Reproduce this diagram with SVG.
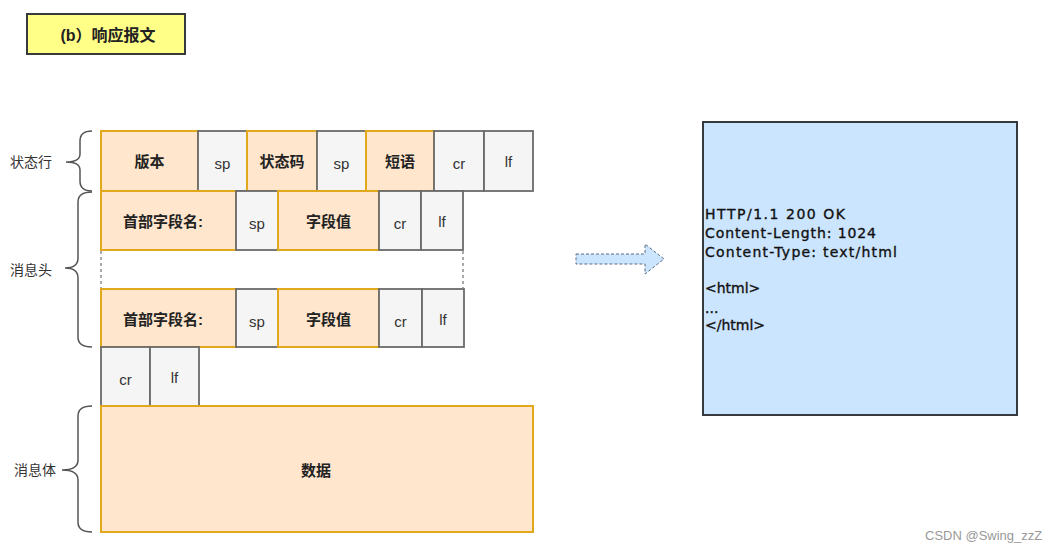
<svg xmlns="http://www.w3.org/2000/svg" width="1063" height="552" viewBox="0 0 1063 552">
<style>
.o{fill:#ffe6cc;stroke:#e0a81a;stroke-width:2}
.g{fill:#f5f5f5;stroke:#6b6b6b;stroke-width:1.8}
.t{font-family:"Liberation Sans","Noto Sans CJK SC",sans-serif;font-size:15px;text-anchor:middle;dominant-baseline:central}
.b{font-weight:bold;fill:#222}
.n{fill:#333}
.lbl{font-family:"Liberation Sans","Noto Sans CJK SC",sans-serif;font-size:14px;fill:#333;dominant-baseline:central}
.br{fill:none;stroke:#555;stroke-width:1.5}
.code{font-family:"DejaVu Sans",sans-serif;font-size:14px;fill:#111;stroke:#111;stroke-width:0.35}
</style>
<rect width="1063" height="552" fill="#fff"/>

<g id="title">
<rect x="27" y="14" width="158" height="40" fill="#ffff88" stroke="#36393d" stroke-width="2"/>
<text class="t b" x="108" y="35" style="font-size:16px">(b）响应报文</text>
</g>

<g id="labels">
<text class="lbl" x="10" y="162">状态行</text>
<text class="lbl" x="10" y="270">消息头</text>
<text class="lbl" x="14" y="470">消息体</text>
<path class="br" d="M92,131 Q80,131 80,141 L80,154 Q80,162 66,162 Q80,162 80,170 L80,181 Q80,191 92,191"/>
<path class="br" d="M92,192 Q78,192 78,202 L78,258 Q78,268 65,268 Q78,268 78,278 L78,337 Q78,347 92,347"/>
<path class="br" d="M92,406 Q78,406 78,416 L78,460 Q78,470 62,470 Q78,470 78,480 L78,522 Q78,532 92,532"/>
</g>

<g id="status-line">
<g id="n-version"><rect class="o" x="101" y="131" width="97" height="60"/><text class="t b" x="149.5" y="161">版本</text></g>
<g id="n-sp1"><rect class="g" x="198" y="131" width="49" height="60"/><text class="t n" x="222.5" y="163">sp</text></g>
<g id="n-status"><rect class="o" x="247" y="131" width="70" height="60"/><text class="t b" x="282" y="161">状态码</text></g>
<g id="n-sp2"><rect class="g" x="317" y="131" width="49" height="60"/><text class="t n" x="341.5" y="163">sp</text></g>
<g id="n-phrase"><rect class="o" x="366" y="131" width="68" height="60"/><text class="t b" x="400" y="161">短语</text></g>
<g id="n-cr1"><rect class="g" x="434" y="131" width="50" height="60"/><text class="t n" x="459" y="163">cr</text></g>
<g id="n-lf1"><rect class="g" x="484" y="131" width="49" height="60"/><text class="t n" x="508.5" y="161">lf</text></g>
</g>

<g id="header1">
<g id="n-hname1"><rect class="o" x="101" y="191" width="135" height="59"/><text class="t b" x="163" y="221">首部字段名:</text></g>
<g id="n-hsp1"><rect class="g" x="236" y="191" width="42" height="59"/><text class="t n" x="257" y="223">sp</text></g>
<g id="n-hval1"><rect class="o" x="278" y="191" width="101" height="59"/><text class="t b" x="328.5" y="221">字段值</text></g>
<g id="n-hcr1"><rect class="g" x="379" y="191" width="42" height="59"/><text class="t n" x="400" y="223">cr</text></g>
<g id="n-hlf1"><rect class="g" x="421" y="191" width="42" height="59"/><text class="t n" x="442" y="221">lf</text></g>
</g>

<g id="ellipsis-gap">
<line x1="101" y1="251" x2="101" y2="288" stroke="#555" stroke-width="1" stroke-dasharray="3,3"/>
<line x1="463" y1="251" x2="463" y2="288" stroke="#555" stroke-width="1" stroke-dasharray="3,3"/>
</g>

<g id="header2">
<g id="n-hname2"><rect class="o" x="101" y="289" width="135" height="58"/><text class="t b" x="163" y="319">首部字段名:</text></g>
<g id="n-hsp2"><rect class="g" x="236" y="289" width="42" height="58"/><text class="t n" x="257" y="321">sp</text></g>
<g id="n-hval2"><rect class="o" x="278" y="289" width="101" height="58"/><text class="t b" x="328.5" y="319">字段值</text></g>
<g id="n-hcr2"><rect class="g" x="379" y="289" width="43" height="58"/><text class="t n" x="400.5" y="321">cr</text></g>
<g id="n-hlf2"><rect class="g" x="422" y="289" width="42" height="58"/><text class="t n" x="443" y="319">lf</text></g>
</g>

<g id="blank-line">
<g id="n-cr3"><rect class="g" x="101" y="347" width="49" height="59"/><text class="t n" x="125.5" y="379">cr</text></g>
<g id="n-lf3"><rect class="g" x="150" y="347" width="49" height="59"/><text class="t n" x="174.5" y="377">lf</text></g>
</g>

<g id="n-body"><rect class="o" x="101" y="406" width="432" height="126"/><text class="t b" x="316" y="470">数据</text></g>

<g id="connectors">
<path d="M576,254 L645,254 L645,244 L664,259 L645,274 L645,264 L576,264 Z" fill="#cce5ff" stroke="#5a6b80" stroke-width="1" stroke-dasharray="3,2"/>
</g>

<g id="n-example">
<rect x="703" y="122" width="314" height="293" fill="#cce5ff" stroke="#36393d" stroke-width="2"/>
<text class="code" x="705" y="219" textLength="140">HTTP/1.1 200 OK</text>
<text class="code" x="705" y="238" textLength="171">Content-Length: 1024</text>
<text class="code" x="705" y="257" textLength="192">Content-Type: text/html</text>
<text class="code" x="705" y="293">&lt;html&gt;</text>
<text class="code" x="705" y="313">...</text>
<text class="code" x="705" y="330">&lt;/html&gt;</text>
</g>

<text x="925" y="540" font-family="Liberation Sans, sans-serif" font-size="13" fill="#999">CSDN @Swing_zzZ</text>
</svg>
